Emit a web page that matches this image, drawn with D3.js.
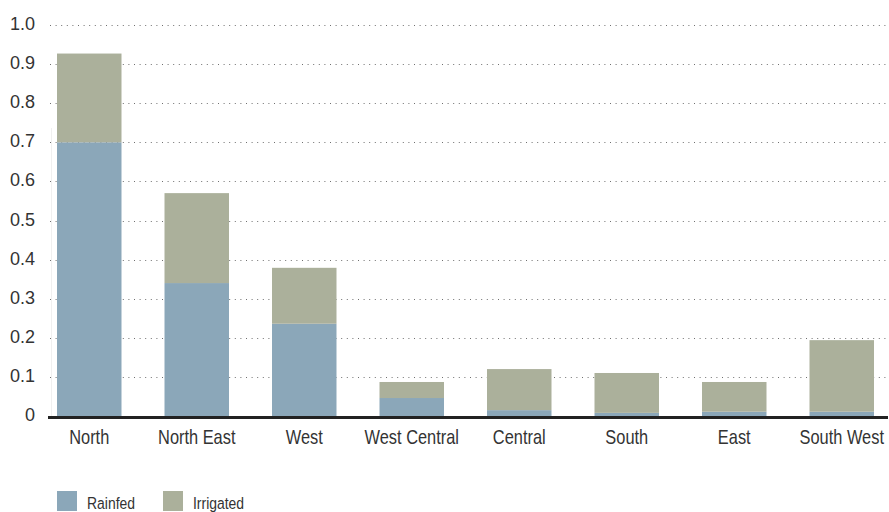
<!DOCTYPE html>
<html>
<head>
<meta charset="utf-8">
<script src="https://cdn.jsdelivr.net/npm/d3@7"></script>
<style>
  html, body { margin: 0; padding: 0; background: #fff; }
  svg { display: block; }
  .lab { font-family: "Liberation Sans", Arial, sans-serif; fill: #333; }
</style>
</head>
<body>
<svg id="chart" width="889" height="512"></svg>
<script>
// Regions along the x axis
const regions = ["North", "North East", "West", "West Central", "Central", "South", "East", "South West"];
// Rainfed share per region (lower segment)
const rainfed = [0.70, 0.34, 0.236, 0.046, 0.015, 0.008, 0.011, 0.011];
// Irrigated share per region (upper segment)
const irrigated = [0.227, 0.23, 0.143, 0.041, 0.105, 0.102, 0.076, 0.183];
// Y tick values and their labels
const yTicks = [0, 0.1, 0.2, 0.3, 0.4, 0.5, 0.6, 0.7, 0.8, 0.9, 1.0];
const yTickLabels = ["0", "0.1", "0.2", "0.3", "0.4", "0.5", "0.6", "0.7", "0.8", "0.9", "1.0"];
const seriesNames = ["Rainfed", "Irrigated"];
const seriesColors = ["#8ba7b9", "#abb09b"];

const svg = d3.select("#chart");

const x = d3.scaleBand()
  .domain(regions)
  .range([57, 874])
  .paddingInner(0.4)
  .paddingOuter(0);

const y = d3.scaleLinear()
  .domain([0, 1])
  .range([416, 25]);

// Dotted horizontal gridlines
svg.append("g")
  .selectAll("line")
  .data(yTicks.filter(d => d > 0))
  .join("line")
  .attr("x1", 50)
  .attr("x2", 887)
  .attr("y1", d => Math.round(y(d)) + 0.5)
  .attr("y2", d => Math.round(y(d)) + 0.5)
  .attr("stroke", "#6f6f6f")
  .attr("stroke-width", 1)
  .attr("stroke-dasharray", "1,4.6");

// Faint left edge of the plot
svg.append("line")
  .attr("x1", 51.5).attr("x2", 51.5)
  .attr("y1", 128).attr("y2", 416)
  .attr("stroke", "#f0f0f0")
  .attr("stroke-width", 1);

// Stacked bars
const rows = regions.map((r, i) => ({ region: r, Rainfed: rainfed[i], Irrigated: irrigated[i] }));
const stacked = d3.stack().keys(seriesNames)(rows);

svg.append("g")
  .selectAll("g")
  .data(stacked)
  .join("g")
  .attr("fill", (d, i) => seriesColors[i])
  .selectAll("rect")
  .data(d => d)
  .join("rect")
  .attr("x", d => x(d.data.region))
  .attr("width", x.bandwidth())
  .attr("y", d => y(d[1]))
  .attr("height", d => y(d[0]) - y(d[1]));

// Baseline
svg.append("line")
  .attr("x1", 48).attr("x2", 888)
  .attr("y1", 417.5).attr("y2", 417.5)
  .attr("stroke", "#222")
  .attr("stroke-width", 3);

// Y axis labels
const yAxis = d3.axisLeft(y)
  .tickValues(yTicks)
  .tickFormat((d, i) => yTickLabels[i])
  .tickSize(0)
  .tickPadding(0);

const yg = svg.append("g")
  .attr("transform", "translate(35,0)")
  .attr("font-family", null)
  .attr("font-size", null)
  .call(yAxis);
yg.attr("font-family", null).attr("font-size", null);
yg.select(".domain").remove();
yg.selectAll("text")
  .attr("class", "lab")
  .style("font-size", "18px")
  .attr("dy", "0.25em");

// X axis labels, condensed horizontally
const xAxis = d3.axisBottom(x).tickSize(0).tickPadding(0);
const xg = svg.append("g")
  .attr("transform", "translate(0,444)")
  .call(xAxis);
xg.attr("font-family", null).attr("font-size", null);
xg.select(".domain").remove();
xg.selectAll("text")
  .attr("class", "lab")
  .style("font-size", "20px")
  .attr("y", 0)
  .attr("dy", 0)
  .attr("transform", "scale(0.82,1)");

// Legend
const legend = svg.append("g");
const legendX = [57, 163];
seriesNames.forEach((name, i) => {
  legend.append("rect")
    .attr("x", legendX[i]).attr("y", 491)
    .attr("width", 20).attr("height", 20)
    .attr("fill", seriesColors[i]);
  legend.append("text")
    .attr("class", "lab")
    .attr("transform", `translate(${legendX[i] + 30},509) scale(0.82,1)`)
    .style("font-size", "17px")
    .text(name);
});
</script>
</body>
</html>
